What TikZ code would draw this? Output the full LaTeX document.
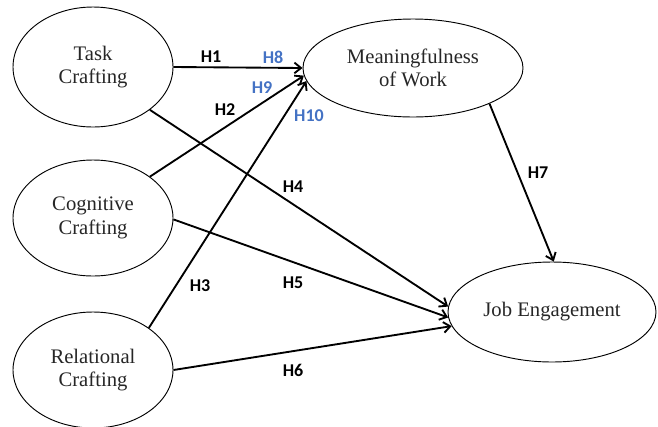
\documentclass[tikz,border=0pt]{standalone}
\usepackage{fontspec}
\setmainfont{Liberation Serif}
\newfontfamily\labelfont{Carlito}
\usetikzlibrary{arrows.meta,shapes.geometric}
\definecolor{hblue}{RGB}{68,114,196}
\begin{document}
\begin{tikzpicture}[x=0.75pt,y=-0.75pt,
  construct/.style={draw, ellipse, line width=0.7pt, inner sep=0pt, align=center,
    font=\fontsize{15.5}{17.5}\selectfont, text=black!85},
  hyp/.style={line width=1.4pt, -{Straight Barb[length=5pt,width=8pt]}},
  hlab/.style={font=\labelfont\bfseries\fontsize{13.5}{15}\selectfont, inner sep=0pt},
  blab/.style={hlab, text=hblue}]
\useasboundingbox (0,0) rectangle (658,426);
\node[construct, minimum width=120pt, minimum height=90pt] (task) at (93,67) {Task\\Crafting};
\node[construct, minimum width=120pt, minimum height=87pt] (cog) at (93,218) {Cognitive\\Crafting};
\node[construct, minimum width=120pt, minimum height=87pt] (rel) at (93,370) {Relational\\Crafting};
\node[construct, minimum width=165pt, minimum height=73.5pt] (mean) at (413,68) {Meaningfulness\\of Work};
\node[construct, minimum width=156pt, minimum height=75pt] (job) at (552,312) {Job Engagement};

\draw[hyp] (task.east) -- (mean.west);
\draw[hyp] (cog.36) -- (mean.184);
\draw[hyp] (rel.37) -- (mean.187);
\draw[hyp] (task.-37) -- (job.177);
\draw[hyp] (cog.-1) -- (job.183);
\draw[hyp] (rel.east) -- (job.188);
\draw[hyp] (mean.-25) -- (job.88);

\node[hlab] (l1) at (211,57) {H1};
\node[blab] (l8) at (273,57) {H8};
\node[blab] (l9) at (262,88) {H9};
\node[hlab] (l2) at (225,110) {H2};
\node[blab] (l10) at (309,116) {H10};
\node[hlab] (l4) at (293,187) {H4};
\node[hlab] (l7) at (538,173) {H7};
\node[hlab] (l3) at (200,286) {H3};
\node[hlab] (l5) at (293,283) {H5};
\node[hlab] (l6) at (293,370) {H6};
\end{tikzpicture}
\end{document}
